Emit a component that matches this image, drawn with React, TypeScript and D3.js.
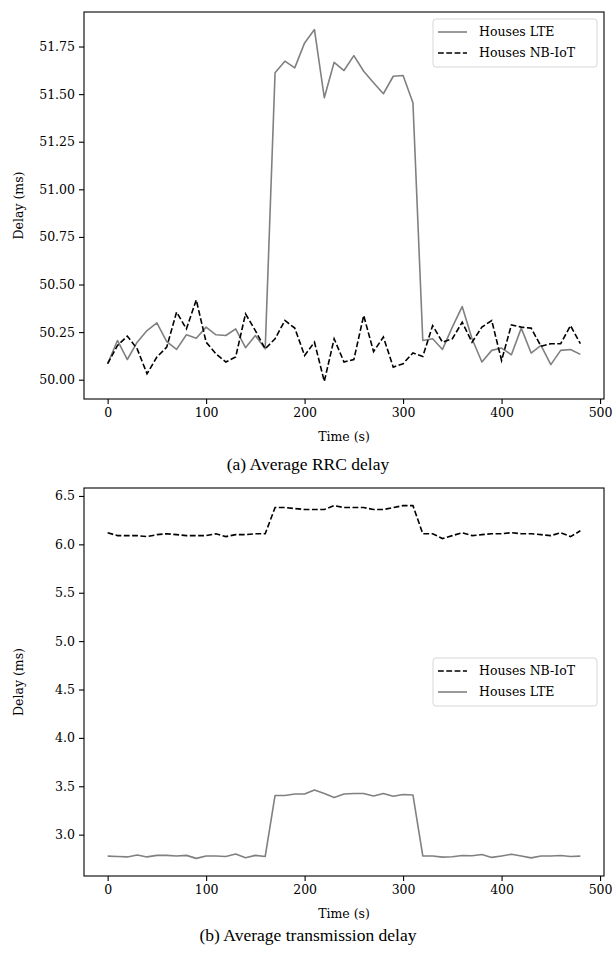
import React, { useEffect, useRef } from 'react';
import * as d3 from 'd3';

// sample times (s)
const times = d3.range(0, 481, 10);

// (a) average RRC delay (ms)
const rrcLte = [
    50.084, 50.206, 50.106, 50.197, 50.258, 50.298, 50.2, 50.159, 50.236, 50.218,
    50.276, 50.236, 50.232, 50.267, 50.168, 50.232, 50.162, 51.612, 51.673, 51.638,
    51.769, 51.839, 51.481, 51.667, 51.624, 51.702, 51.62, 51.56, 51.502, 51.594,
    51.598, 51.455, 50.206, 50.215, 50.159, 50.276, 50.384, 50.215, 50.093, 50.154,
    50.166, 50.131, 50.271, 50.14, 50.18, 50.079, 50.154, 50.159, 50.133,
];
const rrcNbiot = [
    50.084, 50.18, 50.229, 50.162, 50.031, 50.119, 50.171, 50.355, 50.267, 50.419,
    50.197, 50.136, 50.093, 50.119, 50.346, 50.258, 50.162, 50.215, 50.311, 50.271,
    50.127, 50.197, 49.991, 50.215, 50.093, 50.106, 50.337, 50.148, 50.224, 50.066,
    50.084, 50.141, 50.122, 50.284, 50.197, 50.215, 50.302, 50.197, 50.276, 50.311,
    50.101, 50.288, 50.276, 50.271, 50.176, 50.189, 50.189, 50.284, 50.189,
];

// (b) average transmission delay (ms)
const txNbiot = [
    6.12, 6.09, 6.09, 6.09, 6.08, 6.1, 6.11, 6.1, 6.09, 6.09,
    6.09, 6.11, 6.08, 6.1, 6.1, 6.11, 6.11, 6.38, 6.38, 6.37,
    6.36, 6.36, 6.36, 6.4, 6.38, 6.38, 6.38, 6.36, 6.36, 6.38,
    6.4, 6.4, 6.11, 6.11, 6.06, 6.09, 6.12, 6.09, 6.1, 6.11,
    6.11, 6.12, 6.11, 6.11, 6.1, 6.09, 6.12, 6.08, 6.14,
];
const txLte = [
    2.778, 2.775, 2.77, 2.79, 2.77, 2.786, 2.786, 2.78, 2.786, 2.755,
    2.78, 2.78, 2.775, 2.8, 2.762, 2.786, 2.775, 3.405, 3.405, 3.42,
    3.42, 3.462, 3.425, 3.384, 3.42, 3.425, 3.425, 3.4, 3.425, 3.397,
    3.415, 3.41, 2.781, 2.78, 2.768, 2.772, 2.785, 2.782, 2.795, 2.765,
    2.78, 2.797, 2.78, 2.76, 2.78, 2.78, 2.785, 2.775, 2.778,
];

const xTicks = [0, 100, 200, 300, 400, 500];
const rrcTicks = [50.0, 50.25, 50.5, 50.75, 51.0, 51.25, 51.5, 51.75];
const txTicks = [3.0, 3.5, 4.0, 4.5, 5.0, 5.5, 6.0, 6.5];

const GRAY = '#808080';
const AXIS_FONT = "'DejaVu Serif', serif";
const CAPTION_FONT = "'Liberation Serif', 'Times New Roman', serif";

// matplotlib style padding of 5% around the data
const padded = (values) => {
    const [lo, hi] = d3.extent(values);
    const pad = (hi - lo) * 0.05;
    return [lo - pad, hi + pad];
};

const App = () => {
    const ref = useRef(null);

    const drawPanel = (svg, box, lte, nbiot, yTicks, fmt, legendOrder, legendPos, caption) => {
        const x = d3.scaleLinear().domain(padded(times)).range([box.left, box.right]);
        const y = d3.scaleLinear().domain(padded(lte.concat(nbiot))).range([box.bottom, box.top]);

        const g = svg.append('g');

        const line = (vals) => d3.line()
            .x((d, i) => x(times[i]))
            .y((d) => y(d))(vals);

        g.append('path')
            .attr('d', line(lte))
            .attr('fill', 'none')
            .attr('stroke', GRAY)
            .attr('stroke-width', 1.6)
            .attr('stroke-linejoin', 'round');

        g.append('path')
            .attr('d', line(nbiot))
            .attr('fill', 'none')
            .attr('stroke', '#000')
            .attr('stroke-width', 1.6)
            .attr('stroke-dasharray', '5.8,2.5');

        // axes
        const xAxis = d3.axisBottom(x).tickValues(xTicks).tickSize(5).tickPadding(4)
            .tickFormat(d3.format('d'));
        const yAxis = d3.axisLeft(y).tickValues(yTicks).tickSize(5).tickPadding(4)
            .tickFormat(d3.format(fmt));

        const styleAxis = (sel) => {
            sel.select('.domain').remove();
            sel.selectAll('line').attr('stroke', '#000').attr('stroke-width', 1.1);
            sel.selectAll('text')
                .attr('fill', '#000')
                .style('font-family', AXIS_FONT)
                .style('font-size', '12.5px');
        };

        g.append('g')
            .attr('transform', `translate(0,${box.bottom})`)
            .call(xAxis)
            .call(styleAxis);
        g.append('g')
            .attr('transform', `translate(${box.left},0)`)
            .call(yAxis)
            .call(styleAxis);

        g.append('rect')
            .attr('x', box.left)
            .attr('y', box.top)
            .attr('width', box.right - box.left)
            .attr('height', box.bottom - box.top)
            .attr('fill', 'none')
            .attr('stroke', '#000')
            .attr('stroke-width', 1.1);

        g.append('text')
            .attr('x', (box.left + box.right) / 2)
            .attr('y', box.bottom + 42)
            .attr('text-anchor', 'middle')
            .style('font-family', AXIS_FONT)
            .style('font-size', '12.5px')
            .text('Time (s)');

        g.append('text')
            .attr('transform', `translate(23,${(box.top + box.bottom) / 2}) rotate(-90)`)
            .attr('text-anchor', 'middle')
            .style('font-family', AXIS_FONT)
            .style('font-size', '12.5px')
            .text('Delay (ms)');

        // legend
        const lg = g.append('g').attr('transform', `translate(${legendPos.x},${legendPos.y})`);
        lg.append('rect')
            .attr('width', 164)
            .attr('height', 48)
            .attr('rx', 3)
            .attr('fill', '#fff')
            .attr('fill-opacity', 0.8)
            .attr('stroke', '#d6d6d6')
            .attr('stroke-width', 1);
        legendOrder.forEach((item, i) => {
            const cy = 13 + i * 21;
            lg.append('line')
                .attr('x1', 5)
                .attr('x2', 34)
                .attr('y1', cy)
                .attr('y2', cy)
                .attr('stroke', item.dashed ? '#000' : GRAY)
                .attr('stroke-width', 1.6)
                .attr('stroke-dasharray', item.dashed ? '5.8,2.5' : null);
            lg.append('text')
                .attr('x', 46)
                .attr('y', cy)
                .attr('dy', '0.35em')
                .style('font-family', AXIS_FONT)
                .style('font-size', '12.5px')
                .text(item.label);
        });

        svg.append('text')
            .attr('x', 308)
            .attr('y', caption.y)
            .attr('text-anchor', 'middle')
            .style('font-family', CAPTION_FONT)
            .style('font-size', '17.5px')
            .text(caption.text);
    };

    useEffect(() => {
        const svg = d3.select(ref.current);
        svg.selectAll('*').remove();

        drawPanel(
            svg,
            { left: 84, right: 604, top: 12, bottom: 399 },
            rrcLte,
            rrcNbiot,
            rrcTicks,
            '.2f',
            [{ label: 'Houses LTE', dashed: false }, { label: 'Houses NB-IoT', dashed: true }],
            { x: 433, y: 19 },
            { text: '(a) Average RRC delay', y: 470 },
        );

        drawPanel(
            svg,
            { left: 84, right: 604, top: 488, bottom: 876 },
            txLte,
            txNbiot,
            txTicks,
            '.1f',
            [{ label: 'Houses NB-IoT', dashed: true }, { label: 'Houses LTE', dashed: false }],
            { x: 433, y: 658 },
            { text: '(b) Average transmission delay', y: 941 },
        );
    }, []);

    return (
        <svg
            ref={ref}
            width={616}
            height={953}
            style={{ position: 'absolute', left: 0, top: 0, background: '#fff' }}
        />
    );
};

export default App;
